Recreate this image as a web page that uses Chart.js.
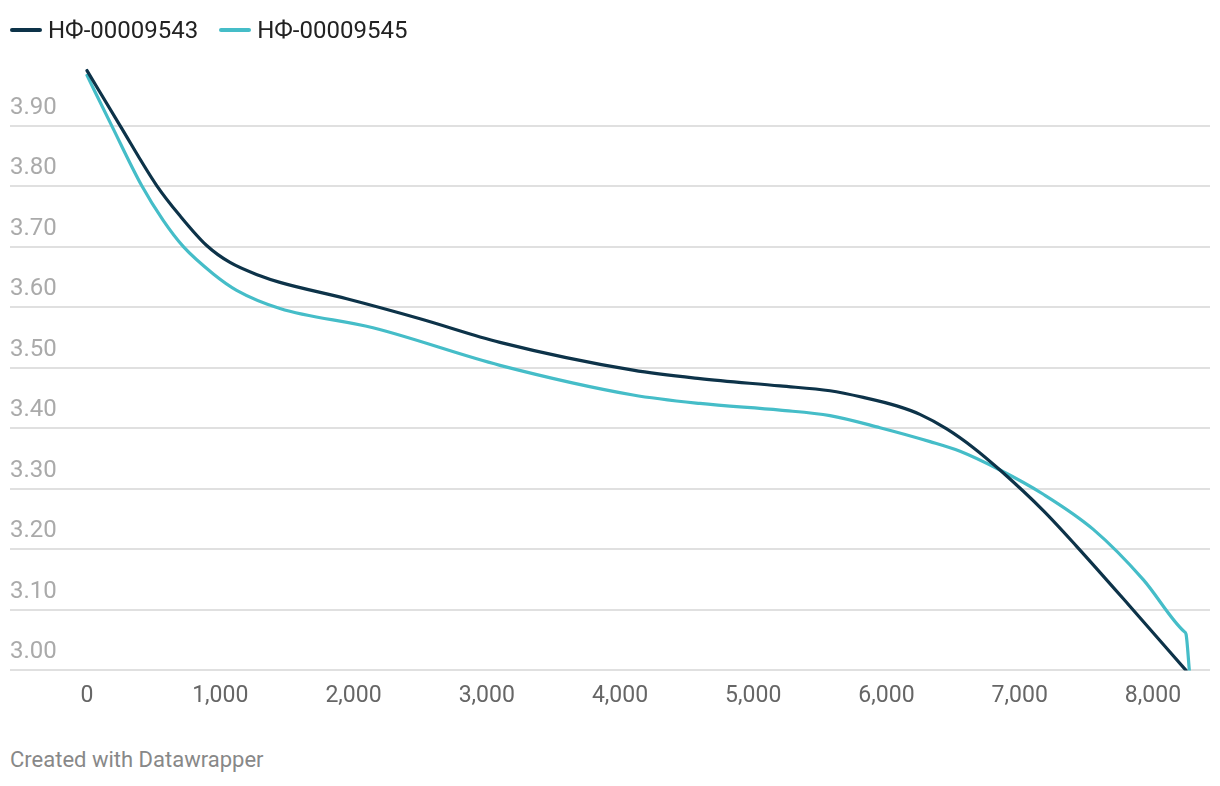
<!DOCTYPE html>
<html>
<head>
<meta charset="utf-8">
<script src="https://cdn.jsdelivr.net/npm/chart.js@4"></script>
<style>
  body { margin: 0; background: #fff; font-family: Roboto, sans-serif; }
  #wrap { position: absolute; left: 0; top: 0; width: 1220px; height: 730px; }
  #legend { position: absolute; left: 10px; top: 16px; display: flex; font-size: 24px; line-height: 28px; color: #222; }
  .item { display: flex; align-items: center; margin-right: 21px; }
  .mark { width: 32px; height: 4px; border-radius: 2px; margin-right: 6px; }
  #footer { position: absolute; left: 10px; top: 747px; font-size: 22px; color: #888; }
</style>
</head>
<body>
<div id="wrap"><canvas id="chart"></canvas></div>
<div id="legend"></div>
<div id="footer">Created with Datawrapper</div>
<script>
// --- Data ---
const seriesNames = ["НФ-00009543", "НФ-00009545"];
const colors = ["#0d3349", "#45bdc8"];

const x9543 = [0, 248, 523, 698, 898, 1073, 1298, 1448, 1949, 2499, 3099, 4098, 4600, 5201, 5576, 5826, 6077, 6251, 6452, 6652, 6852, 7177, 7427, 7827, 8248];
const y9543 = [3.991, 3.900, 3.801, 3.751, 3.702, 3.674, 3.652, 3.641, 3.614, 3.581, 3.542, 3.496, 3.482, 3.470, 3.462, 3.451, 3.437, 3.423, 3.399, 3.368, 3.331, 3.264, 3.205, 3.106, 3.000];

const x9545 = [0, 185, 410, 573, 723, 948, 1123, 1448, 2146, 3099, 4098, 4600, 5201, 5576, 5951, 6327, 6552, 6852, 7177, 7552, 7927, 8235, 8248, 8273];
const y9545 = [3.983, 3.900, 3.801, 3.743, 3.700, 3.655, 3.628, 3.598, 3.566, 3.504, 3.455, 3.441, 3.430, 3.421, 3.401, 3.378, 3.362, 3.331, 3.291, 3.233, 3.150, 3.064, 3.060, 3.000];

const xTicks = [0, 1000, 2000, 3000, 4000, 5000, 6000, 7000, 8000];
const yTicks = [3.0, 3.1, 3.2, 3.3, 3.4, 3.5, 3.6, 3.7, 3.8, 3.9];

const toPoints = (xs, ys) => xs.map((x, i) => ({ x, y: ys[i] }));

// --- Legend (html, like the original) ---
const legendEl = document.getElementById("legend");
seriesNames.forEach((name, i) => {
  const item = document.createElement("div");
  item.className = "item";
  const mark = document.createElement("span");
  mark.className = "mark";
  mark.style.background = colors[i];
  item.appendChild(mark);
  item.appendChild(document.createTextNode(name));
  legendEl.appendChild(item);
});

const datasets = [
  { label: seriesNames[0], data: toPoints(x9543, y9543) },
  { label: seriesNames[1], data: toPoints(x9545, y9545) }
].map((d, i) => ({
  ...d,
  borderColor: colors[i],
  backgroundColor: colors[i],
  borderWidth: 3.2,
  borderCapStyle: "round",
  pointRadius: 0,
  cubicInterpolationMode: "monotone",
  fill: false
}));

// --- Chart ---
const chart = new Chart(document.getElementById("chart"), {
  type: "line",
  data: { datasets },
  options: {
    responsive: true,
    maintainAspectRatio: false,
    animation: false,
    layout: { padding: { left: 10, right: 10, top: 53, bottom: 8 } },
    plugins: {
      tooltip: { enabled: false },
      legend: { display: false }
    },
    scales: {
      x: {
        type: "linear",
        min: -578,
        max: 8428,
        afterBuildTicks: (axis) => { axis.ticks = xTicks.map(v => ({ value: v })); },
        grid: { display: false, drawTicks: false },
        border: { display: false },
        ticks: {
          color: "#666",
          padding: 12,
          maxRotation: 0,
          font: { family: "Roboto", size: 23 },
          callback: (v) => v.toLocaleString("en-US")
        }
      },
      y: {
        min: 3.0,
        max: 4.02,
        afterBuildTicks: (axis) => { axis.ticks = yTicks.map(v => ({ value: v })); },
        grid: { color: "#e0e0e0", lineWidth: 2, drawTicks: false },
        border: { display: false },
        ticks: {
          mirror: true,
          padding: 0,
          labelOffset: -18,
          color: "#aaa",
          font: { family: "Roboto", size: 24 },
          callback: (v) => v.toFixed(2)
        }
      }
    }
  }
});
</script>
</body>
</html>
